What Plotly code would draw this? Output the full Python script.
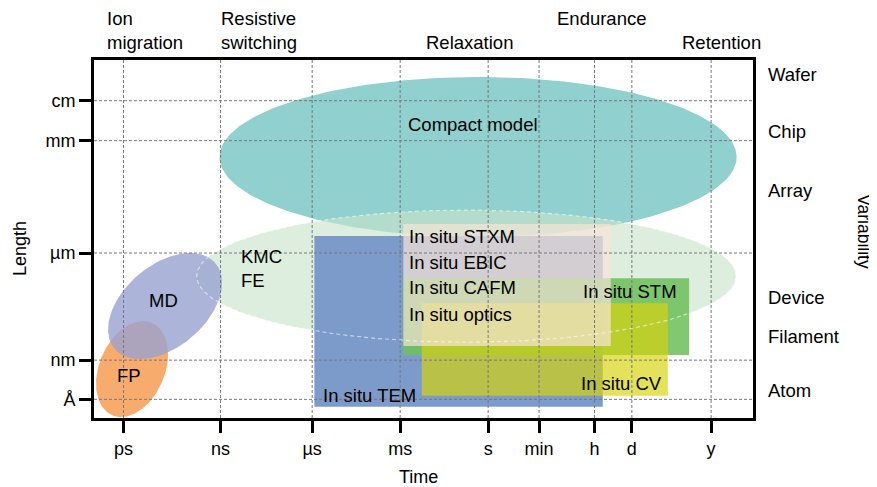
import numpy as np
import plotly.graph_objects as go

FONT = "Liberation Sans, Arial, Helvetica, sans-serif"

# ---- axes (x: time in decades as placed on the chart, y: length in decades) ----
time_tick_labels = ["ps", "ns", "µs", "ms", "s", "min", "h", "d", "y"]
time_tick_pos = [-12, -8.78, -5.74, -2.82, 0.1, 1.79, 3.63, 4.87, 7.5]
length_tick_labels = ["cm", "mm", "µm", "nm", "Å"]
length_tick_pos = [-2, -3.07, -6.08, -8.95, -10]
time_range = [-12.98, 8.89]
length_range = [-10.5, -0.91]

# ---- axis-aligned ellipses ----
ell_names = ["Compact model", "KMC FE"]
ell_cx = [-0.234, -0.62]
ell_cy = [-3.508, -6.70]
ell_rx = [8.58, 8.95]
ell_ry = [2.143, 1.77]

# ---- tilted ellipses (half width, half height, phase of top point) ----
tilt_names = ["FP", "MD"]
tilt_cx = [-11.718, -10.623]
tilt_cy = [-9.187, -7.50]
tilt_hx = [1.195, 1.892]
tilt_hy = [1.286, 1.420]
tilt_phase = [72.2, 64.0]

# ---- in situ technique boxes ----
box_names = ["In situ TEM", "In situ STM", "In situ CV", "In situ STXM"]
box_t0 = [-5.667, -2.723, -2.103, -2.713]
box_t1 = [3.904, 6.769, 6.062, 4.17]
box_l0 = [-10.197, -8.812, -9.902, -8.571]
box_l1 = [-5.624, -6.758, -7.427, -5.303]

# ---- labels inside the plot ----
lab_text = ["Compact model", "KMC", "FE", "MD", "FP",
            "In situ STXM", "In situ EBIC", "In situ CAFM", "In situ optics",
            "In situ STM", "In situ CV", "In situ TEM"]
lab_x = [-2.624, -8.167, -8.167, -10.689, -11.817,
         -2.581, -2.581, -2.581, -2.581,
         6.447, 3.128, -5.455]
lab_y = [-2.651, -6.179, -6.822, -7.339, -9.367,
         -5.643, -6.340, -7.009, -7.714,
         -7.098, -9.570, -9.884]
lab_anchor = ["left", "left", "left", "center", "center",
              "left", "left", "left", "left",
              "right", "left", "left"]

# ---- variability levels (right side) ----
var_levels = ["Wafer", "Chip", "Array", "Device", "Filament", "Atom"]
var_y = [-1.285, -2.838, -4.419, -7.285, -8.330, -9.750]

# ---- time phenomena (top), one entry per text line ----
phen_text = ["Ion", "migration", "Resistive", "switching", "Relaxation", "Endurance", "Retention"]
phen_x = [-12.614, -12.614, -8.83, -8.83, -2.027, 2.32, 6.47]
phen_row = ["top", "bottom", "top", "bottom", "bottom", "top", "bottom"]

colors = {
    "Compact model": "rgb(144,208,206)",
    "KMC FE": "rgba(200,228,204,0.62)",
    "FP": "rgb(247,172,110)",
    "MD": "rgba(152,161,209,0.8)",
    "In situ TEM": "rgb(124,155,202)",
    "In situ STM": "rgba(112,192,92,0.88)",
    "In situ CV": "rgba(215,211,12,0.68)",
    "In situ STXM": "rgba(246,228,214,0.70)",
}

t = np.linspace(0, 2 * np.pi, 241)


def ellipse_trace(i):
    return go.Scatter(
        x=ell_cx[i] + ell_rx[i] * np.cos(t),
        y=ell_cy[i] + ell_ry[i] * np.sin(t),
        mode="lines", fill="toself", line=dict(width=0),
        fillcolor=colors[ell_names[i]], hoverinfo="skip", showlegend=False)


def tilt_trace(i):
    ph = np.deg2rad(tilt_phase[i])
    return go.Scatter(
        x=tilt_cx[i] + tilt_hx[i] * np.cos(t),
        y=tilt_cy[i] + tilt_hy[i] * np.cos(t - ph),
        mode="lines", fill="toself", line=dict(width=0),
        fillcolor=colors[tilt_names[i]], hoverinfo="skip", showlegend=False)


def box_trace(i):
    return go.Scatter(
        x=[box_t0[i], box_t1[i], box_t1[i], box_t0[i], box_t0[i]],
        y=[box_l0[i], box_l0[i], box_l1[i], box_l1[i], box_l0[i]],
        mode="lines", fill="toself", line=dict(width=0),
        fillcolor=colors[box_names[i]], hoverinfo="skip", showlegend=False)


fig = go.Figure()
fig.add_trace(ellipse_trace(0))           # compact model
fig.add_trace(ellipse_trace(1))           # KMC / FE
fig.add_trace(box_trace(0))               # TEM
fig.add_trace(box_trace(1))               # STM
fig.add_trace(box_trace(2))               # CV
fig.add_trace(box_trace(3))               # STXM
fig.add_trace(tilt_trace(0))              # FP
fig.add_trace(tilt_trace(1))              # MD

# faint outline of the KMC/FE ellipse
fig.add_trace(go.Scatter(
    x=ell_cx[1] + ell_rx[1] * np.cos(t), y=ell_cy[1] + ell_ry[1] * np.sin(t),
    mode="lines", line=dict(color="rgba(255,255,255,0.55)", width=1.2, dash="4px,3px"),
    hoverinfo="skip", showlegend=False))

# dashed grid on top
gx, gy = [], []
for v in time_tick_pos:
    gx += [v, v, None]
    gy += [length_range[0], length_range[1], None]
for v in length_tick_pos:
    gx += [time_range[0], time_range[1], None]
    gy += [v, v, None]
fig.add_trace(go.Scatter(x=gx, y=gy, mode="lines",
                         line=dict(color="rgb(120,120,120)", width=1, dash="3px,2px"),
                         hoverinfo="skip", showlegend=False))

annotations = []
for txt, x, y, a in zip(lab_text, lab_x, lab_y, lab_anchor):
    annotations.append(dict(x=x, y=y, xref="x", yref="y", text=txt, showarrow=False,
                            xanchor=a, yanchor="middle",
                            font=dict(family=FONT, size=18.5, color="black")))
for txt, y in zip(var_levels, var_y):
    annotations.append(dict(x=1, y=y, xref="paper", yref="y", text=txt, showarrow=False,
                            xanchor="left", yanchor="middle", xshift=13,
                            font=dict(family=FONT, size=18.5, color="black")))
for txt, x, r in zip(phen_text, phen_x, phen_row):
    yy = 1.117 if r == "top" else 1.050
    annotations.append(dict(x=x, y=yy, xref="x", yref="paper", text=txt, showarrow=False,
                            xanchor="left", yanchor="middle", align="left",
                            font=dict(family=FONT, size=18.5, color="black")))
annotations.append(dict(x=0.493, y=-0.165, xref="paper", yref="paper", text="Time",
                        showarrow=False, xanchor="center", yanchor="middle",
                        font=dict(family=FONT, size=18, color="black")))
annotations.append(dict(x=-0.1123, y=0.475, xref="paper", yref="paper", text="Length",
                        showarrow=False, xanchor="center", yanchor="middle", textangle=-90,
                        font=dict(family=FONT, size=18, color="black")))
annotations.append(dict(x=1.168, y=0.52, xref="paper", yref="paper", text="Variability",
                        showarrow=False, xanchor="center", yanchor="middle", textangle=90,
                        font=dict(family=FONT, size=17.5, color="black")))

axis_common = dict(showline=True, linewidth=3, linecolor="black", mirror=True,
                   ticks="outside", ticklen=12, tickwidth=3, tickcolor="black",
                   showgrid=False, zeroline=False,
                   tickfont=dict(family=FONT, size=18, color="black"))

fig.update_layout(
    width=869, height=479,
    margin=dict(l=86, r=124, t=52, b=69),
    paper_bgcolor="white", plot_bgcolor="white",
    xaxis=dict(range=time_range, tickvals=time_tick_pos, ticktext=time_tick_labels, **axis_common),
    yaxis=dict(range=length_range, tickvals=length_tick_pos, ticktext=length_tick_labels, **axis_common),
    annotations=annotations,
    showlegend=False,
)

fig.write_html("out.html")
